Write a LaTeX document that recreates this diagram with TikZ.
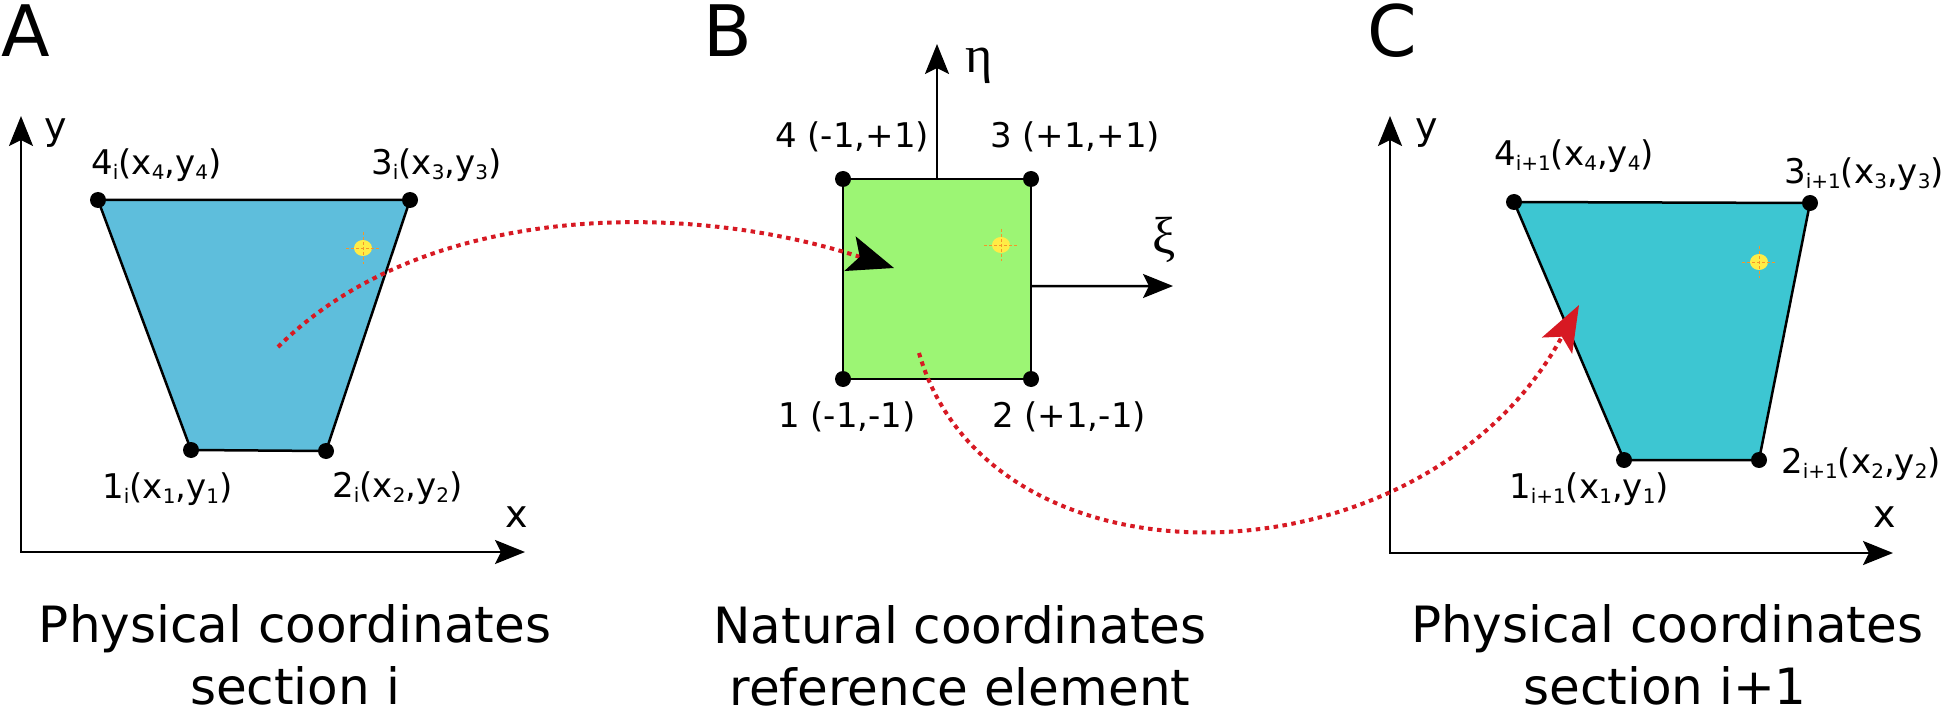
\documentclass[tikz,border=0pt]{standalone}
\usepackage{fontspec}
\setmainfont{DejaVu Sans}
\newfontfamily\greekfont{Liberation Serif}
\usetikzlibrary{arrows.meta, shapes.geometric, backgrounds, calc}

\definecolor{physblue}{RGB}{94,190,220}
\definecolor{natgreen}{RGB}{156,245,116}
\definecolor{nextcyan}{RGB}{61,198,210}
\definecolor{mapred}{RGB}{215,25,35}
\definecolor{ptyellow}{RGB}{255,236,70}
\definecolor{ptorange}{RGB}{245,150,40}

\newcommand{\lo}[1]{\raisebox{-5pt}{\fontsize{20}{20}\selectfont #1}}

\begin{document}
\begin{tikzpicture}[
        x=1pt, y=-1pt,
        >={Stealth[length=30pt, width=24pt, inset=6pt]},
        vertex/.style={circle, fill=black, inner sep=0pt, minimum size=16pt},
        ptdot/.style={ellipse, fill=ptyellow, inner sep=0pt, minimum width=18pt, minimum height=16pt},
        cross/.style={ptorange, line width=1pt, dash pattern=on 3pt off 2pt},
        elembox/.style={draw=black, line width=2.5pt, line join=round},
        axis/.style={line width=2.5pt},
        flow/.style={mapred, line width=4pt, dash pattern=on 4.5pt off 4.5pt},
        panellab/.style={inner sep=0pt, anchor=base west, font=\fontsize{71}{80}\selectfont},
        cornerlab/.style={inner sep=0pt, anchor=base west, font=\fontsize{34}{40}\selectfont},
        axlab/.style={inner sep=0pt, anchor=base west, font=\fontsize{38}{44}\selectfont},
        greeklab/.style={inner sep=0pt, anchor=base west, font=\greekfont\fontsize{52}{60}\selectfont},
        caption/.style={inner sep=0pt, anchor=base, font=\fontsize{50}{63}\selectfont},
    ]
    \useasboundingbox (0,0) rectangle (1946,714);

    % === A: PHYSICAL SECTION i ===
    \node[panellab] (labA) at (1,57) {A};
    \coordinate (yA) at (21,116);
    \coordinate (xA) at (525,552);
    \draw[axis, <->] (yA) |- (xA);
    \node[axlab] (yAlab) at (44,140) {y};
    \node[axlab] (xAlab) at (505,527) {x};

    \node[vertex] (a1) at (191,450) {};
    \node[vertex] (a2) at (326,451) {};
    \node[vertex] (a3) at (410,200) {};
    \node[vertex] (a4) at (98,200) {};
    \begin{scope}[on background layer]
        \draw[elembox, fill=physblue] (a1.center) -- (a2.center) -- (a3.center) -- (a4.center) -- cycle;
    \end{scope}

    \node[cornerlab] (a4lab) at (91,175) {4\lo{i}(x\lo{4},y\lo{4})};
    \node[cornerlab] (a3lab) at (371,175) {3\lo{i}(x\lo{3},y\lo{3})};
    \node[cornerlab] (a1lab) at (102,498) {1\lo{i}(x\lo{1},y\lo{1})};
    \node[cornerlab] (a2lab) at (332,497) {2\lo{i}(x\lo{2},y\lo{2})};

    \node[ptdot] (ptA) at (363,248) {};

    % === B: REFERENCE ELEMENT ===
    \node[panellab] (labB) at (703,57) {B};
    \node[vertex] (b1) at (843,379) {};
    \node[vertex] (b2) at (1031,379) {};
    \node[vertex] (b3) at (1031,179) {};
    \node[vertex] (b4) at (843,179) {};
    \begin{scope}[on background layer]
        \draw[elembox, fill=natgreen] (b1.center) -- (b2.center) -- (b3.center) -- (b4.center) -- cycle;
    \end{scope}

    \coordinate (etabase) at ($(b4)!0.5!(b3)$);
    \coordinate (etatip) at (937,44);
    \coordinate (xibase) at ($(b2)!0.465!(b3)$);
    \coordinate (xitip) at (1173,286);
    \draw[axis, ->] (etabase) -- (etatip);
    \draw[axis, ->] (xibase) -- (xitip);
    \node[greeklab] (etalab) at (965,73) {η};
    \node[greeklab] (xilab) at (1152,254) {ξ};

    \node[cornerlab] (b4lab) at (775,148) {4 (-1,+1)};
    \node[cornerlab] (b3lab) at (990,148) {3 (+1,+1)};
    \node[cornerlab] (b1lab) at (778,427) {1 (-1,-1)};
    \node[cornerlab] (b2lab) at (992,427) {2 (+1,-1)};

    \node[ptdot] (ptB) at (1001,245) {};

    % === C: PHYSICAL SECTION i+1 ===
    \node[panellab] (labC) at (1367,57) {C};
    \coordinate (yC) at (1390,116);
    \coordinate (xC) at (1893,553);
    \draw[axis, <->] (yC) |- (xC);
    \node[axlab] (yClab) at (1415,140) {y};
    \node[axlab] (xClab) at (1873,527) {x};

    \node[vertex] (c1) at (1624,460) {};
    \node[vertex] (c2) at (1759,460) {};
    \node[vertex] (c3) at (1810,203) {};
    \node[vertex] (c4) at (1514,202) {};
    \begin{scope}[on background layer]
        \draw[elembox, fill=nextcyan] (c1.center) -- (c2.center) -- (c3.center) -- (c4.center) -- cycle;
    \end{scope}

    \node[cornerlab] (c4lab) at (1494,166) {4\lo{i+1}(x\lo{4},y\lo{4})};
    \node[cornerlab] (c3lab) at (1784,184) {3\lo{i+1}(x\lo{3},y\lo{3})};
    \node[cornerlab] (c1lab) at (1509,498) {1\lo{i+1}(x\lo{1},y\lo{1})};
    \node[cornerlab] (c2lab) at (1781,473) {2\lo{i+1}(x\lo{2},y\lo{2})};

    \node[ptdot] (ptC) at (1759,262) {};

    % crosshairs on the mapped point
    \foreach \pt in {ptA, ptB, ptC} {
            \draw[cross] (\pt.center) ++(-17,0) -- ++(34,0);
            \draw[cross] (\pt.center) ++(0,-16) -- ++(0,32);
        }

    % === MAPPINGS ===
    \coordinate (startA) at (278,347);
    \coordinate (tipB) at (894,268);
    \draw[flow, -{Stealth[length=46pt, width=36pt, inset=10pt, color=black]}]
        (startA) .. controls (420,205) and (679,198) .. (tipB);
    \coordinate (startB) at (919,353);
    \coordinate (tipC) at (1579,305);
    \draw[flow, -{Stealth[length=46pt, width=34pt, inset=10pt]}]
        (startB) .. controls (990,600) and (1425,590) .. (tipC);

    % === CAPTIONS ===
    \node[caption] (capA1) at (295,642) {Physical coordinates};
    \node[caption] (capA2) at (295,704) {section i};
    \node[caption] (capB1) at (960,643) {Natural coordinates};
    \node[caption] (capB2) at (960,705) {reference element};
    \node[caption] (capC1) at (1667,642) {Physical coordinates};
    \node[caption] (capC2) at (1665,704) {section i+1};
\end{tikzpicture}
\end{document}
